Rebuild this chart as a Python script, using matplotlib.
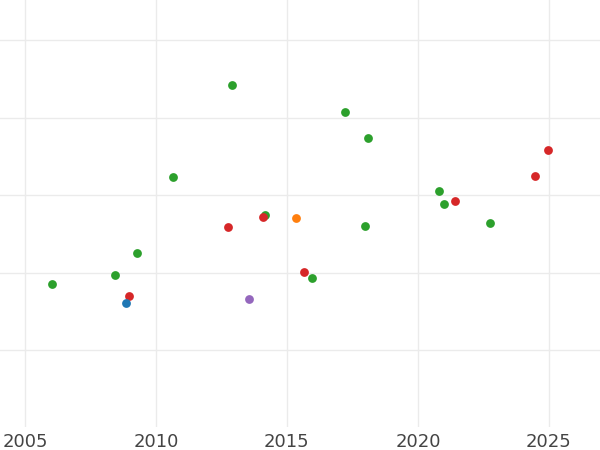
import matplotlib
matplotlib.use("Agg")
import matplotlib.pyplot as plt

# (year, value) per colour group
green_x = [2006.03, 2008.43, 2009.27, 2010.65, 2012.9, 2014.16, 2015.95, 2017.21, 2017.98, 2018.09, 2020.8, 2020.99, 2022.75]
green_y = [1.85, 1.97, 2.25, 3.23, 4.42, 2.74, 1.93, 4.08, 2.6, 3.74, 3.06, 2.88, 2.64]
red_x = [2008.97, 2012.75, 2014.08, 2015.65, 2021.41, 2024.47, 2024.96]
red_y = [1.70, 2.59, 2.72, 2.01, 2.92, 3.25, 3.58]
blue_x, blue_y = [2008.85], [1.61]
purple_x, purple_y = [2013.55], [1.66]
orange_x, orange_y = [2015.34], [2.70]

fig = plt.figure(figsize=(6, 4.5), dpi=100)
ax = fig.add_axes([0, 0.051, 1, 0.949])

groups = [
    (green_x, green_y, "#2ca02c"),
    (red_x, red_y, "#d62728"),
    (blue_x, blue_y, "#1f77b4"),
    (purple_x, purple_y, "#9467bd"),
    (orange_x, orange_y, "#ff7f0e"),
]
for xs, ys, c in groups:
    ax.scatter(xs, ys, s=40, color=c, zorder=3, linewidths=0)

ax.set_xlim(2004.05, 2026.95)
ax.set_ylim(0.006, 5.52)
ax.set_xticks([2005, 2010, 2015, 2020, 2025])
ax.set_yticks([1, 2, 3, 4, 5])
ax.set_yticklabels([])
ax.grid(True, color="#ebebeb", linewidth=1)
ax.set_axisbelow(True)
ax.tick_params(length=0, labelsize=13, labelcolor="#444444", pad=4)
for s in ax.spines.values():
    s.set_visible(False)

fig.savefig("out.png", dpi=100)
